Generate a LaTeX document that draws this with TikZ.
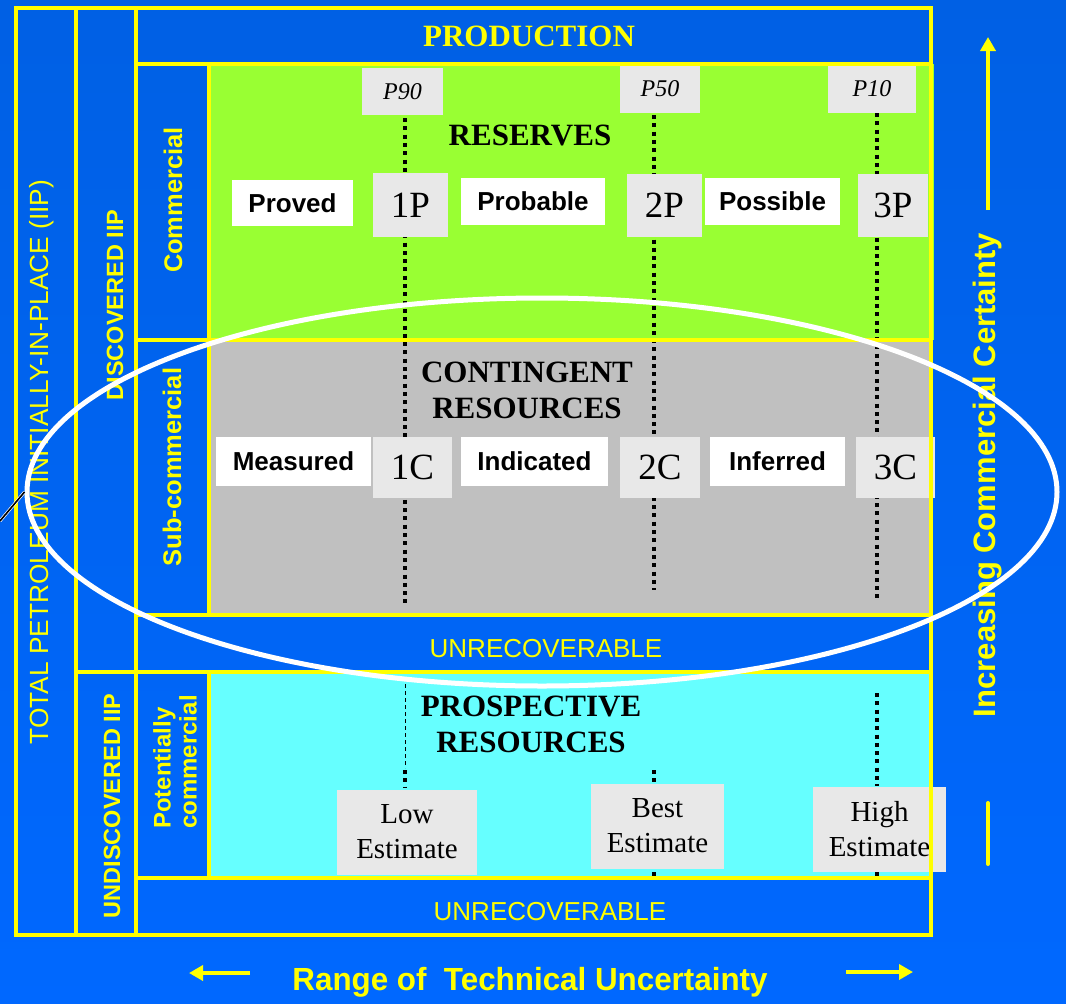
\documentclass[tikz,border=0pt]{standalone}
\usepackage{fontspec}
\setmainfont{Liberation Serif}
\setsansfont{Liberation Sans}
\usetikzlibrary{arrows.meta,shapes.geometric}

\definecolor{bgtop}{RGB}{0,96,228}
\definecolor{bgmid}{RGB}{0,80,204}
\definecolor{bgbot}{RGB}{0,104,255}
\definecolor{lineyellow}{RGB}{255,255,0}
\definecolor{resgreen}{RGB}{153,255,51}
\definecolor{contgray}{RGB}{192,192,192}
\definecolor{prospcyan}{RGB}{102,255,255}
\definecolor{tagfill}{RGB}{232,232,232}

\tikzset{
  frame/.style={draw=lineyellow, line width=4pt},
  dotline/.style={line width=4pt, dash pattern=on 4pt off 4.3pt},
  thindash/.style={line width=1pt, dash pattern=on 4pt off 3pt},
  whitetag/.style={fill=white, inner sep=0pt, font=\sffamily\bfseries\fontsize{26}{30}\selectfont},
  codetag/.style={fill=tagfill, inner sep=0pt, font=\fontsize{37}{40}\selectfont},
  ptag/.style={fill=tagfill, inner sep=0pt, font=\itshape\fontsize{24}{28}\selectfont},
  esttag/.style={fill=tagfill, inner sep=0pt, align=center, font=\fontsize{29}{35}\selectfont},
  classtitle/.style={font=\bfseries\fontsize{31}{36}\selectfont, align=center},
  sidelabel/.style={text=lineyellow, rotate=90, font=\sffamily\bfseries\fontsize{23.5}{26}\selectfont},
  bandlabel/.style={text=lineyellow, font=\sffamily\fontsize{26}{30}\selectfont},
  yarrow/.style={draw=lineyellow, line width=4pt, -{Triangle[width=15pt,length=14pt]}},
}

\begin{document}
\begin{tikzpicture}[x=1pt,y=-1pt]
\useasboundingbox (0,0) rectangle (1066,1004);
% blue background
\shade[top color=bgtop, middle color=bgmid, bottom color=bgbot] (0,0) rectangle (1066,1004);

% coloured class areas
\fill[resgreen]  (209,64)  rectangle (934,340);
\fill[contgray]  (209,340) rectangle (932,615);
\fill[prospcyan] (209,672) rectangle (932,878);

% percentile guide lines
\draw[dotline] (405,118) -- (405,605);
\draw[dotline] (654,115) -- (654,590);
\draw[dotline] (877,113) -- (877,602);
\draw[thindash] (405,684) -- (405,768);
\draw[dotline] (405,770) -- (405,788);
\draw[dotline] (654,770) -- (654,788);
\draw[dotline] (654,864) -- (654,878);
\draw[dotline] (877,693) -- (877,786);
\draw[dotline] (877,864) -- (877,878);

% percentile tags
\node[ptag, minimum width=81pt, minimum height=47pt] (p90) at (402.5,91.5) {P90};
\node[ptag, minimum width=80pt, minimum height=49pt] (p50) at (660,88.5) {P50};
\node[ptag, minimum width=88pt, minimum height=49pt] (p10) at (872,88.5) {P10};

% reserves row
\node[whitetag, minimum width=121pt, minimum height=46pt] (proved) at (292.5,203) {Proved};
\node[codetag, minimum width=75pt, minimum height=64pt] (p1) at (410.5,205) {1P};
\node[whitetag, minimum width=144pt, minimum height=47pt] (probable) at (533,201.5) {Probable};
\node[codetag, minimum width=75pt, minimum height=63pt] (p2) at (664.5,205.5) {2P};
\node[whitetag, minimum width=135pt, minimum height=47pt] (possible) at (772.5,201.5) {Possible};
\node[codetag, minimum width=70pt, minimum height=63pt] (p3) at (893,205.5) {3P};

% contingent row
\node[whitetag, minimum width=155pt, minimum height=49pt] (measured) at (293.5,461.5) {Measured};
\node[codetag, minimum width=79pt, minimum height=61pt] (c1) at (412.5,467.5) {1C};
\node[whitetag, minimum width=147pt, minimum height=49pt] (indicated) at (534.5,461.5) {Indicated};
\node[codetag, minimum width=80pt, minimum height=61pt] (c2) at (660,467.5) {2C};
\node[whitetag, minimum width=135pt, minimum height=49pt] (inferred) at (777.5,461.5) {Inferred};
\node[codetag, minimum width=79pt, minimum height=61pt] (c3) at (895.5,467.5) {3C};

% prospective estimates
\node[esttag, minimum width=140pt, minimum height=85pt] (low) at (407,832) {Low\\Estimate};
\node[esttag, minimum width=133pt, minimum height=85pt] (best) at (657.5,826) {Best\\Estimate};
\node[esttag, minimum width=133pt, minimum height=85pt] (high) at (879.5,829) {High\\Estimate};

% yellow framework
\draw[frame] (16,8) rectangle (76,935);
\draw[frame] (76,8) rectangle (136,672);
\draw[frame] (76,672) rectangle (136,935);
\draw[frame] (136,8) rectangle (931,64);
\draw[frame] (136,64) rectangle (209,340);
\draw[frame] (209,64) rectangle (931,340);
\draw[frame] (136,340) rectangle (209,615);
\draw[frame] (209,340) rectangle (931,615);
\draw[frame] (136,615) rectangle (931,672);
\draw[frame] (136,672) rectangle (209,878);
\draw[frame] (209,672) rectangle (931,878);
\draw[frame] (136,878) rectangle (931,935);

% class titles
\node[classtitle, text=lineyellow] (production) at (529,36) {PRODUCTION};
\node[classtitle] (reserves) at (530,135) {RESERVES};
\node[classtitle] (contingent) at (527,390) {CONTINGENT\\RESOURCES};
\node[classtitle] (prospective) at (531,724) {PROSPECTIVE\\RESOURCES};
\node[bandlabel] (unrec1) at (546,649) {UNRECOVERABLE};
\node[bandlabel] (unrec2) at (550,912) {UNRECOVERABLE};

% side labels
\node[text=lineyellow, rotate=90, font=\sffamily\fontsize{26.3}{30}\selectfont] (total) at (42,462) {TOTAL PETROLEUM INITIALLY-IN-PLACE (IIP)};
\node[sidelabel] (discovered) at (115,305) {DISCOVERED IIP};
\node[sidelabel] (undiscovered) at (112,806) {UNDISCOVERED IIP};
\node[sidelabel, font=\sffamily\bfseries\fontsize{25.5}{28}\selectfont] (commercial) at (173,200) {Commercial};
\node[sidelabel, font=\sffamily\bfseries\fontsize{25.5}{28}\selectfont] (subcommercial) at (172,467) {Sub-commercial};
\node[sidelabel, align=left, font=\sffamily\bfseries\fontsize{24}{26}\selectfont] (potential) at (175,762) {Potentially\\commercial};

% certainty axis
\node[sidelabel, font=\sffamily\bfseries\fontsize{31}{34}\selectfont] (certainty) at (988,475) {Increasing Commercial Certainty};
\coordinate (upfrom) at (988,210);
\coordinate (upto) at (988,37);
\draw[yarrow] (upfrom) -- (upto);
\coordinate (barfrom) at (988,803);
\coordinate (barto) at (988,864);
\draw[lineyellow, line width=4pt, line cap=round] (barfrom) -- (barto);

% uncertainty axis
\node[text=lineyellow, font=\sffamily\bfseries\fontsize{32}{34}\selectfont, xscale=0.98] (range) at (530,982) {Range of\ \ Technical Uncertainty};
\coordinate (leftfrom) at (250,973);
\coordinate (leftto) at (189,973);
\draw[yarrow] (leftfrom) -- (leftto);
\coordinate (rightfrom) at (846,972);
\coordinate (rightto) at (913,972);
\draw[yarrow] (rightfrom) -- (rightto);

% discovered-but-sub-commercial ring
\node[draw=white, line width=5pt, ellipse, minimum width=1030pt, minimum height=388pt, inner sep=0pt] (ring) at (542,492) {};
\coordinate (pointerend) at (0,521);
\draw[white, line width=3pt] (pointerend) -- (ring.west);
\draw[black, line width=1.6pt] (pointerend) -- (ring.west);
\end{tikzpicture}
\end{document}
